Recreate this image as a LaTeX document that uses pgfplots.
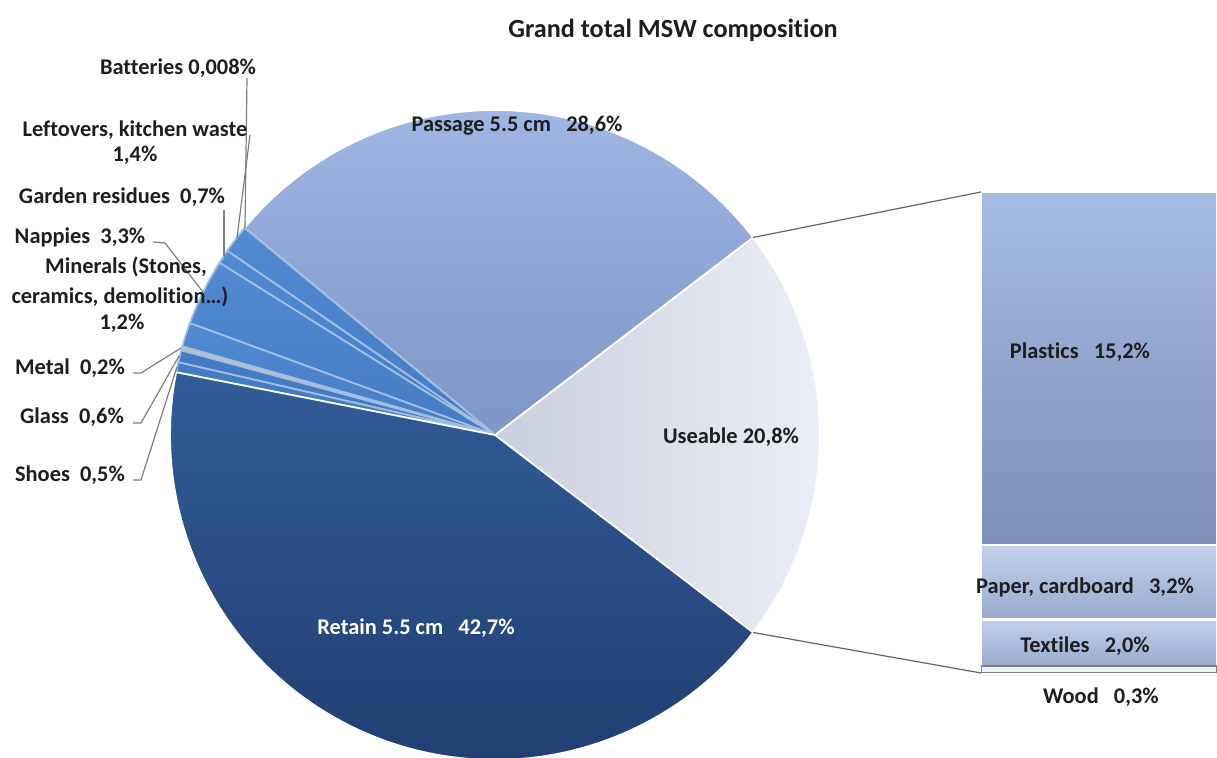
\documentclass[border=0pt]{standalone}
\usepackage{pgfplots}
\pgfplotsset{compat=1.18}
\usepackage{fontspec}
\setmainfont{Carlito}[Ligatures=CommonOff]
\definecolor{cPass}{HTML}{8DA6D6}
\definecolor{cPassT}{HTML}{9FB6E3}
\definecolor{cPassB}{HTML}{7E96C5}
\definecolor{cUseL}{HTML}{C9CFDD}
\definecolor{cUseR}{HTML}{EBEEF6}
\definecolor{cRetT}{HTML}{315C98}
\definecolor{cRetB}{HTML}{213F72}
\definecolor{cSmall}{HTML}{437BC4}
\definecolor{cSmallT}{HTML}{528AD2}
\definecolor{cMetal}{HTML}{BCC2CA}
\definecolor{cTxt}{HTML}{1E1E1E}
\definecolor{cLine}{HTML}{7F7F7F}
\definecolor{cPlT}{HTML}{A7BCE4}
\definecolor{cPlB}{HTML}{7C8FB4}
\definecolor{cPaT}{HTML}{C3D0EC}
\definecolor{cPaB}{HTML}{99AACD}
\definecolor{cWood}{HTML}{EEF2FA}
\def\cum{0}
\newcommand\defslice[2]{%
  \pgfmathsetmacro\tmpa{\cum*3.6-37.44}%
  \pgfmathsetmacro\tmpb{(\cum+#2)*3.6-37.44}%
  \expandafter\xdef\csname s#1a\endcsname{\tmpa}%
  \expandafter\xdef\csname s#1b\endcsname{\tmpb}%
  \pgfmathsetmacro\tmpc{\cum+#2}\xdef\cum{\tmpc}}
% shares of the pie, counter-clockwise from the Useable slice
\defslice{A}{20.8}  % Useable
\defslice{B}{28.6}  % Passage 5.5 cm
\defslice{C}{0.008} % Batteries
\defslice{D}{1.4}   % Leftovers
\defslice{E}{0.7}   % Garden residues
\defslice{F}{3.3}   % Nappies
\defslice{G}{1.2}   % Minerals
\defslice{H}{0.2}   % Metal
\defslice{I}{0.6}   % Glass
\defslice{J}{0.5}   % Shoes
\defslice{K}{42.7}  % Retain 5.5 cm
\newcommand\lab{\fontsize{11.2}{13.4}\selectfont\bfseries\color{cTxt}}
\newcommand\pieslice[4]{% name, style, samples, edge colour
  \addplot[#2, draw=#4, line width=0.9pt, domain=\csname s#1a\endcsname:\csname s#1b\endcsname, samples=#3, variable=\t]
    ({495+325*cos(\t)},{323+325*sin(\t)}) -- (axis cs:495,323) -- cycle;}
\begin{document}
\begin{tikzpicture}
% bar of the Useable fraction
\begin{axis}[at={(490.5pt,42.5pt)}, anchor=south west, width=118pt, height=240.5pt,
  scale only axis, xmin=0, xmax=1, ymin=0, ymax=20.7, hide axis, ybar stacked, bar width=1]
\addplot[draw=cLine, line width=0.6pt, fill=cWood] coordinates {(0.5,0.3)};   % Wood
\addplot[draw=white, line width=1.2pt, top color=cPaT, bottom color=cPaB] coordinates {(0.5,2.0)}; % Textiles
\addplot[draw=white, line width=1.2pt, top color=cPaT, bottom color=cPaB] coordinates {(0.5,3.2)}; % Paper
\addplot[draw=white, line width=1.2pt, top color=cPlT, bottom color=cPlB] coordinates {(0.5,15.2)}; % Plastics
\end{axis}
\begin{axis}[at={(0,0)}, anchor=south west, width=608.5pt, height=379pt, scale only axis,
  xmin=0, xmax=1217, ymin=0, ymax=758, hide axis]
\pieslice{A}{left color=cUseL, right color=cUseR}{80}{white}
\pieslice{B}{top color=cPassT, bottom color=cPassB}{80}{white}
\pieslice{C}{fill=cSmall}{3}{white!50!cSmall}
\pieslice{D}{top color=cSmallT, bottom color=cSmall}{10}{white!50!cSmall}
\pieslice{E}{top color=cSmallT, bottom color=cSmall}{10}{white!50!cSmall}
\pieslice{F}{top color=cSmallT, bottom color=cSmall}{20}{white!50!cSmall}
\pieslice{G}{top color=cSmallT, bottom color=cSmall}{10}{white!50!cSmall}
\pieslice{H}{fill=cMetal}{5}{white!50!cSmall}
\pieslice{I}{fill=cSmall}{5}{white!50!cSmall}
\pieslice{J}{fill=cSmall}{5}{white!50!cSmall}
\pieslice{K}{top color=cRetT, bottom color=cRetB}{100}{white}
% connectors to the bar
\draw[cLine!80!black, line width=0.6pt] (axis cs:753,520.5) -- (axis cs:981,566);
\draw[cLine!80!black, line width=0.6pt] (axis cs:753,125.5) -- (axis cs:981,85);
% leader lines
\draw[cLine, line width=0.6pt] (axis cs:247,680) -- (axis cs:245,530);
\draw[cLine, line width=0.6pt] (axis cs:250,623) -- (axis cs:237,520);
\draw[cLine, line width=0.6pt] (axis cs:224,548) -- (axis cs:224,502);
\draw[cLine, line width=0.6pt] (axis cs:153,516) -- (axis cs:165,515) -- (axis cs:203,466);
\draw[cLine, line width=0.6pt] (axis cs:133,385) -- (axis cs:141,385) -- (axis cs:181,410);
\draw[cLine, line width=0.6pt] (axis cs:133,335) -- (axis cs:141,335) -- (axis cs:179,402);
\draw[cLine, line width=0.6pt] (axis cs:133,278) -- (axis cs:141,278) -- (axis cs:177,391);
% texts
\node[font=\fontsize{13.1}{15}\selectfont\bfseries, text=cTxt] at (axis cs:673,728) {Grand total MSW composition};
\node[font=\lab] at (axis cs:178,690) {Batteries 0,008\%};
\node[font=\lab] at (axis cs:135,628) {Leftovers, kitchen waste};
\node[font=\lab] at (axis cs:135,603) {1,4\%};
\node[font=\lab] at (axis cs:122,561) {Garden residues\ \ 0,7\%};
\node[font=\lab] at (axis cs:80,521) {Nappies\ \ 3,3\%};
\node[font=\lab] at (axis cs:126,491) {Minerals (Stones,};
\node[font=\lab] at (axis cs:120,461) {ceramics, demolition\ldots)};
\node[font=\lab] at (axis cs:122,435) {1,2\%};
\node[font=\lab] at (axis cs:70,390) {Metal\ \ 0,2\%};
\node[font=\lab] at (axis cs:72,341) {Glass\ \ 0,6\%};
\node[font=\lab] at (axis cs:70,283) {Shoes\ \ 0,5\%};
\node[font=\lab] at (axis cs:517,632) {Passage 5.5 cm\ \ \ 28,6\%};
\node[font=\lab] at (axis cs:731,321) {Useable 20,8\%};
\node[font=\fontsize{11.2}{13.4}\selectfont\bfseries, text=white] at (axis cs:416,130) {Retain 5.5 cm\ \ \ 42,7\%};
\node[font=\lab] at (axis cs:1080,406) {Plastics\ \ \ 15,2\%};
\node[font=\lab] at (axis cs:1085,171) {Paper, cardboard\ \ \ 3,2\%};
\node[font=\lab] at (axis cs:1085,112) {Textiles\ \ \ 2,0\%};
\node[font=\lab] at (axis cs:1101,61) {Wood\ \ \ 0,3\%};
\end{axis}
\pgfresetboundingbox
\path[use as bounding box] (0,0) rectangle (608.5pt,379pt);
\end{tikzpicture}
\end{document}
